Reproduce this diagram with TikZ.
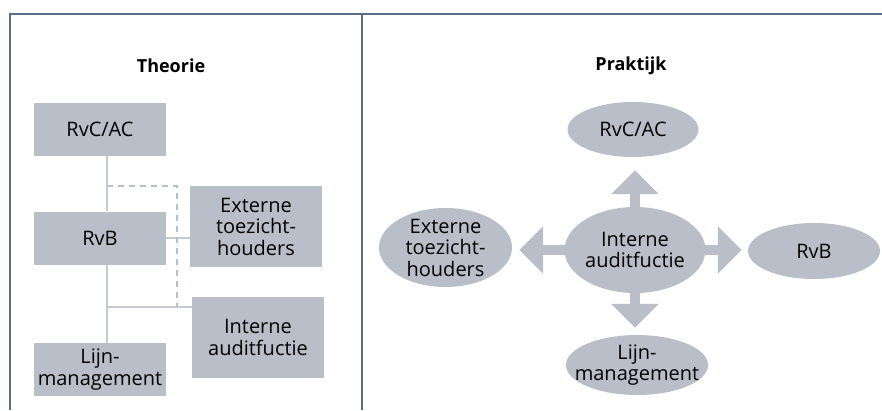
\documentclass[tikz,border=0pt]{standalone}
\usepackage{fontspec}
\setmainfont{Open Sans}
\usetikzlibrary{arrows.meta, positioning, shapes.geometric}
\definecolor{framegray}{HTML}{5B6E86}
\definecolor{boxgray}{HTML}{B9BEC9}
\definecolor{linegray}{HTML}{C4C9D2}

\begin{document}
\begin{tikzpicture}[
    x=1pt, y=-1pt,
    box/.style={
        rectangle, fill=boxgray,
        minimum width=132pt, minimum height=53pt, inner sep=0pt,
        align=center, font=\fontsize{20}{21.5}\selectfont
    },
    tallbox/.style={box, minimum height=81pt},
    oval/.style={
        ellipse, fill=boxgray, inner sep=0pt,
        align=center, font=\fontsize{20}{21.5}\selectfont
    },
    title/.style={font=\fontsize{18}{20}\selectfont\bfseries},
    ln/.style={draw=linegray, line width=2pt},
    dashln/.style={ln, draw=boxgray, dash pattern=on 6pt off 5pt},
    bigarrow/.style={-{Triangle[width=46pt, length=24pt]}, draw=boxgray, line width=10pt},
    frame/.style={draw=framegray, line width=2pt}
]
\useasboundingbox (0,0) rectangle (882,410);

\draw[frame] (10,410) -- (10,14) -- (882,14);
\draw[frame] (362,14) -- (362,410);

\node[title] (theorie) at (171,66) {Theorie};
\node[title] (praktijk) at (631,66) {Praktijk};

\node[box] (rvc) at (100,129.5) {RvC/AC};
\node[box] (rvb) at (100,238) {RvB};
\node[box] (lijn) at (100,369.5) {Lijn-\\management};
\node[tallbox] (ext) at (256,226.5) {Externe\\toezicht-\\houders};
\node[tallbox] (int) at (258,337.5) {Interne\\auditfuctie};

\coordinate (jtop) at (107,186);
\coordinate (jbot) at (107,307);
\coordinate (dk) at (177,186);

\draw[ln] (rvc.south -| jtop) -- (rvb.north -| jtop);
\draw[ln] (rvb.south -| jtop) -- (lijn.north -| jtop);
\draw[ln] (rvb.east) -- (rvb.east -| ext.west);
\draw[ln] (jbot) -- (jbot -| int.west);
\draw[dashln] (jtop) -- (dk) -- (dk |- jbot);

\node[oval, minimum width=132pt, minimum height=86pt, inner ysep=-4pt] (ia) at (635,250) {Interne\\auditfuctie};
\node[oval, minimum width=131pt, minimum height=55pt] (rvc2) at (633,129.5) {RvC/AC};
\node[oval, minimum width=133pt, minimum height=79pt, inner sep=-8pt] (ext2) at (445.5,247.5) {Externe\\toezicht-\\houders};
\node[oval, minimum width=132pt, minimum height=56pt] (rvb2) at (814,251) {RvB};
\node[oval, minimum width=130pt, minimum height=60pt, inner xsep=-12pt, inner ysep=-7pt] (lijn2) at (637,365) {Lijn-\\management};

\draw[bigarrow, shorten <=-1pt, shorten >=13pt] (ia) -- (ia |- rvc2.south);
\draw[bigarrow, shorten <=-1pt, shorten >=7pt] (ia) -- (ia |- lijn2.north);
\draw[bigarrow, shorten <=-1pt, shorten >=7pt] (ia) -- (ia -| ext2.east);
\draw[bigarrow, shorten <=-1pt, shorten >=6pt] (ia) -- (ia -| rvb2.west);
\end{tikzpicture}
\end{document}
